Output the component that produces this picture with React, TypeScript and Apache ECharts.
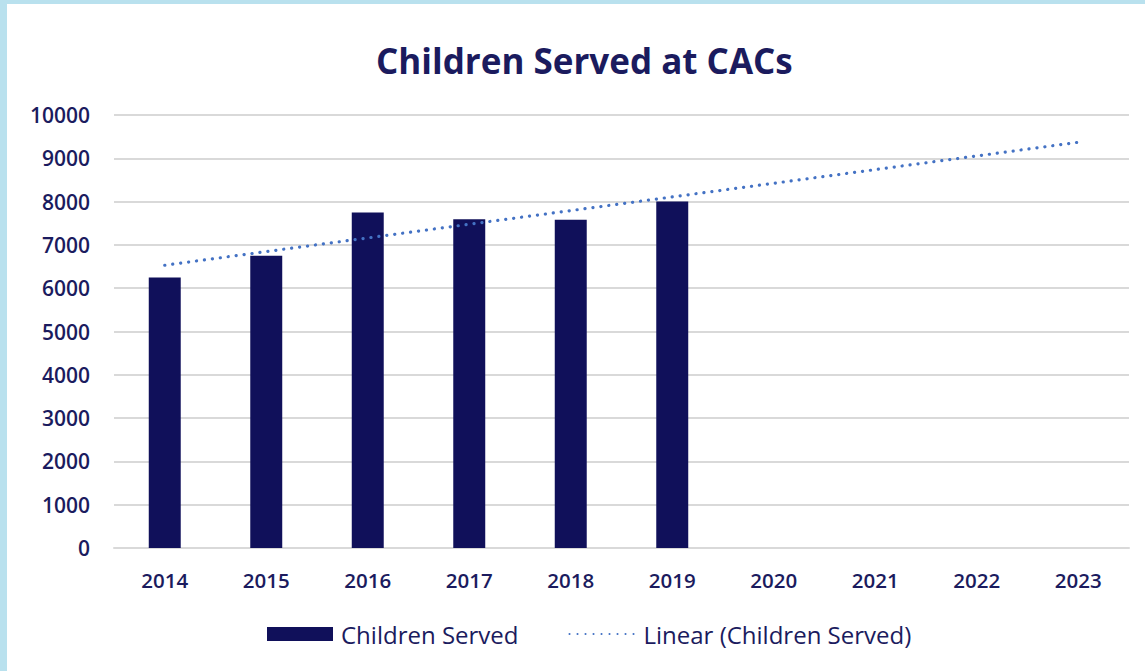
import React, { useEffect, useRef } from "react";
import * as echarts from "echarts";

const categories = ["2014", "2015", "2016", "2017", "2018", "2019", "2020", "2021", "2022", "2023"];
const childrenServed = [6250, 6750, 7750, 7590, 7580, 8000, null, null, null, null];
const linearTrend = [6530, null, null, null, null, null, null, null, null, 9370];
const yTicks = { min: 0, max: 10000, interval: 1000 };

const NAVY = "#10105a";
const TEXT = "#1b1b5e";
const TREND = "#4472c4";
const FONT = "'Open Sans', 'Noto Sans', sans-serif";

export default function App() {
  const ref = useRef<HTMLDivElement>(null);
  useEffect(() => {
    if (!ref.current) return;
    const chart = echarts.init(ref.current, null, { renderer: "svg" });
    chart.setOption({
      animation: false,
      backgroundColor: "#ffffff",
      textStyle: { fontFamily: FONT },
      title: {
        text: "Children Served at CACs",
        left: 371,
        top: 38,
        textStyle: { fontSize: 35, fontWeight: "bold", color: TEXT, fontFamily: FONT },
      },
      graphic: [
        { type: "rect", left: 0, top: 0, shape: { width: 1145, height: 4 }, style: { fill: "#b9e1ee" } },
        { type: "rect", left: 0, top: 0, shape: { width: 7, height: 671 }, style: { fill: "#b9e1ee" } },
      ],
      grid: { left: 114, right: 16, top: 115, bottom: 123, containLabel: false },
      legend: {
        top: 617,
        left: 262,
        itemWidth: 66,
        itemHeight: 14,
        itemGap: 50,
        textStyle: { fontSize: 24, color: TEXT, fontFamily: FONT, padding: [0, 0, 0, 3] },
        data: [
          { name: "Children Served", icon: "rect" },
          { name: "Linear (Children Served)", itemStyle: { opacity: 0 } },
        ],
      },
      xAxis: {
        type: "category",
        data: categories,
        axisTick: { show: false },
        axisLine: { lineStyle: { color: "#d9d9d9", width: 2 } },
        axisLabel: { fontSize: 20.5, fontWeight: 600, color: TEXT, margin: 21 },
      },
      yAxis: {
        type: "value",
        min: yTicks.min,
        max: yTicks.max,
        interval: yTicks.interval,
        axisLine: { show: false },
        axisTick: { show: false },
        axisLabel: {
          fontSize: 21,
          fontWeight: 600,
          color: TEXT,
          margin: 24,
          formatter: (v: number) => String(v),
        },
        splitLine: { lineStyle: { color: "#d9d9d9", width: 2 } },
      },
      series: [
        {
          name: "Children Served",
          type: "bar",
          data: childrenServed,
          barWidth: "31.5%",
          itemStyle: { color: NAVY },
        },
        {
          name: "Linear (Children Served)",
          type: "line",
          data: linearTrend,
          connectNulls: true,
          showSymbol: false,
          symbol: "none",
          z: 5,
          lineStyle: { color: TREND, width: 3.2, type: [0.1, 7.9], cap: "round" },
          itemStyle: { color: TREND },
        },
      ],
    });
    return () => chart.dispose();
  }, []);
  return (
    <div style={{ position: "fixed", left: 0, top: 0, width: 1145, height: 671 }}>
      <div ref={ref} style={{ width: 1145, height: 671 }} />
    </div>
  );
}
